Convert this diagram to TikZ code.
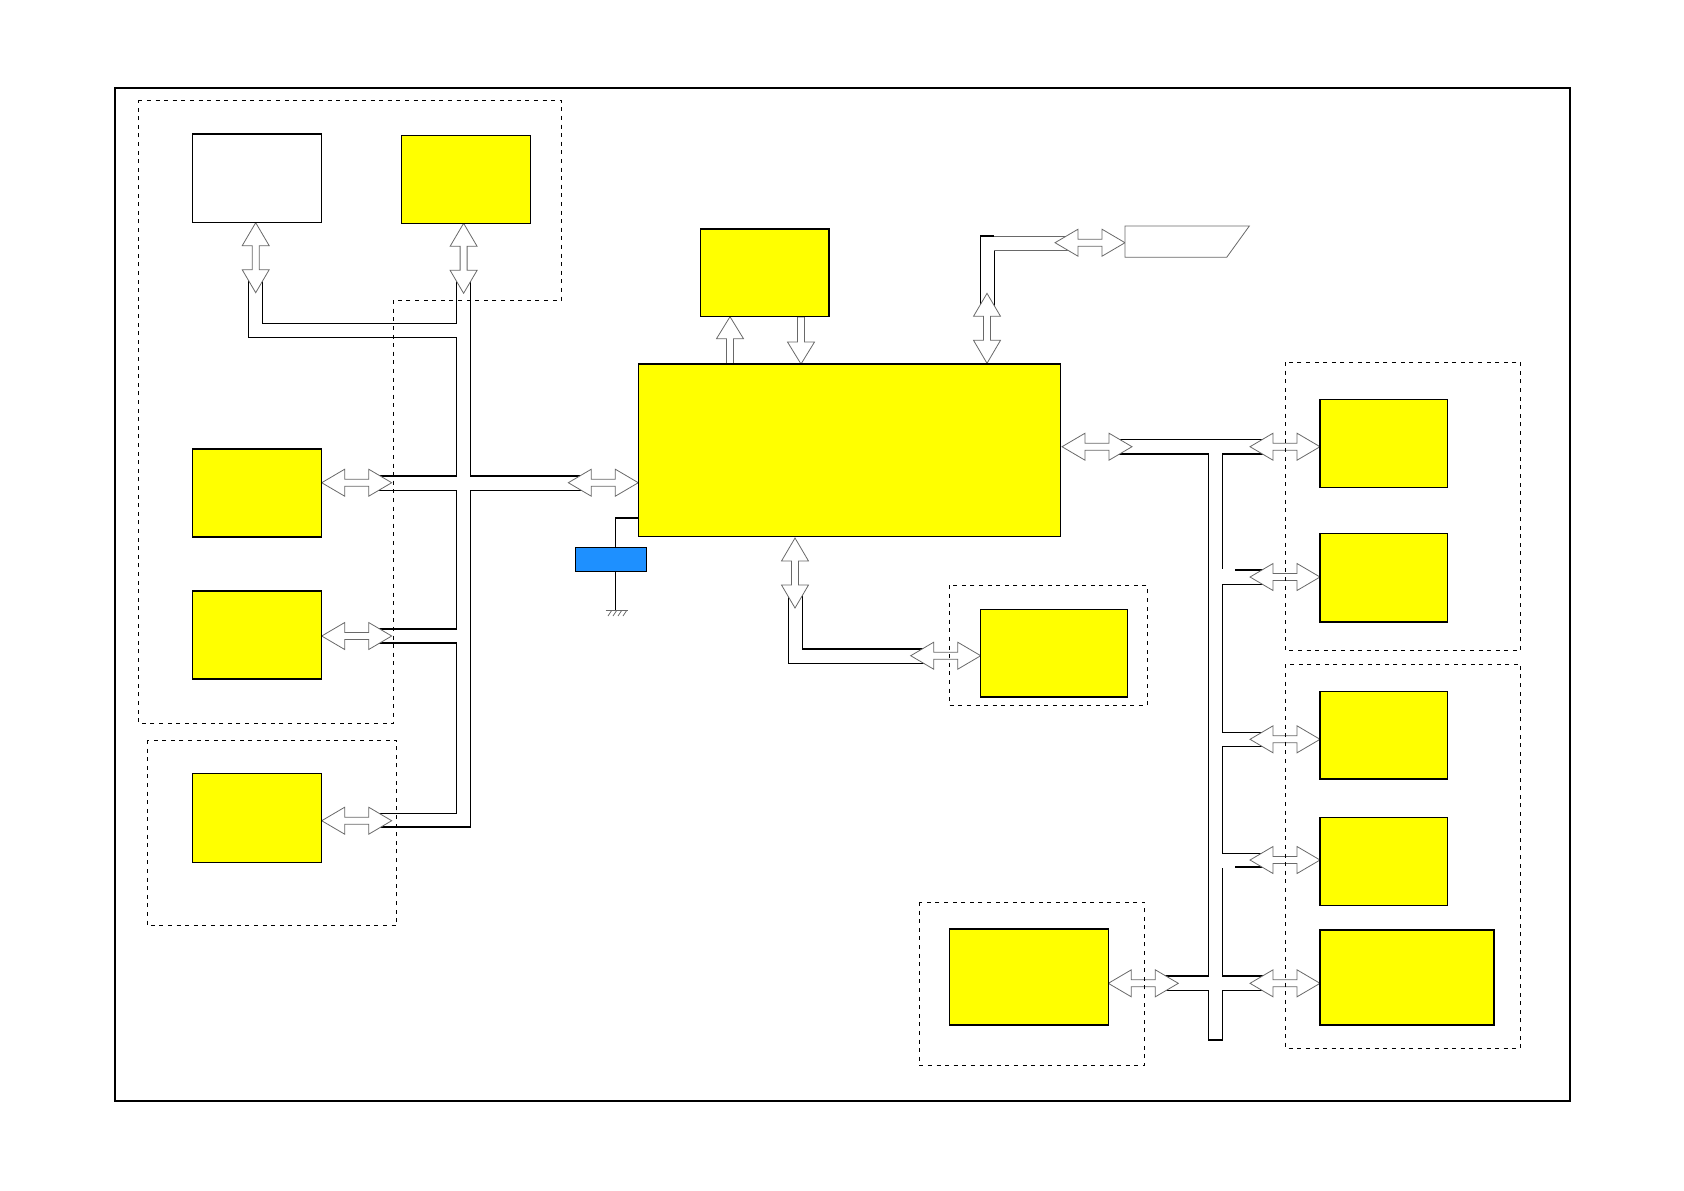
\documentclass[tikz,border=0pt]{standalone}
\usetikzlibrary{fit}
\definecolor{ybox}{RGB}{255,255,0}
\definecolor{bluebox}{RGB}{30,144,255}
\definecolor{arrgray}{RGB}{105,105,105}
\tikzset{
 box/.style={draw=black, line width=0.55pt, inner sep=0pt, outer sep=0pt},
 yellowbox/.style={box, fill=ybox},
 whitebox/.style={box, fill=white},
 bus/.style={draw=black, line width=0.55pt},
 graybus/.style={draw=arrgray, line width=0.5pt},
 zone/.style={draw=black, line width=0.5pt, dash pattern=on 2pt off 2.3pt},
 arrline/.style={draw=arrgray, fill=white, line width=0.4pt, line join=miter},
 dbl/.pic={\path[arrline] (0,0) -- (23,13.5) -- (23,3.5) -- (47,3.5) -- (47,13.5) -- (70,0) -- (47,-13.5) -- (47,-3.5) -- (23,-3.5) -- (23,-13.5) -- cycle;},
 sgl/.pic={\path[arrline] (0,0) -- (22,13.5) -- (22,3.5) -- (47,3.5) -- (47,-3.5) -- (22,-3.5) -- (22,-13.5) -- cycle;}
}
\begin{document}
\begin{tikzpicture}[x=0.5pt,y=-0.5pt]
\useasboundingbox (0,0) rectangle (1684,1190);
% outer frame
\draw[line width=1pt] (115,87.5) rectangle (1570,1101);

% ---------- bus lines ----------
% left bus
\path[bus] (248.3,275) -- (248.3,337.7) -- (456.7,337.7) -- (456.7,476) -- (375,476);
\path[bus] (262.3,275) -- (262.3,323.3) -- (456.7,323.3) -- (456.7,275);
\path[bus] (375,490.3) -- (456.7,490.3) -- (456.7,629) -- (375,629);
\path[bus] (375,643) -- (456.7,643) -- (456.7,813.3) -- (375,813.3);
\path[bus] (470.5,275) -- (470.5,476) -- (586,476);
\path[bus] (586,490.3) -- (470.5,490.3) -- (470.5,827) -- (375,827);
% top right bus
\path[bus] (980.7,310) -- (980.7,236) -- (994.3,236);
\path[graybus] (994.3,236) -- (1073,236);
\path[bus] (994.3,310) -- (994.3,250.7);
\path[graybus] (994.3,250.7) -- (1073,250.7);
% bottom CPU bus
\path[bus] (788.3,590) -- (788.3,663.3) -- (929,663.3);
\path[bus] (802.3,590) -- (802.3,649) -- (929,649);
% right bus
\path[bus] (1114,439.3) -- (1268,439.3);
\path[bus] (1114,454) -- (1208.3,454) -- (1208.3,976) -- (1160,976);
\path[bus] (1268,454) -- (1222.3,454) -- (1222.3,569.3);
\path[bus] (1235,570) -- (1268,570);
\path[bus] (1268,584.3) -- (1222.3,584.3) -- (1222.3,732.3) -- (1268,732.3);
\path[bus] (1268,746.3) -- (1222.3,746.3) -- (1222.3,853.3) -- (1268,853.3);
\path[bus] (1235,867) -- (1268,867);
\path[bus] (1222.3,868.3) -- (1222.3,976) -- (1268,976);
\path[bus] (1160,990.3) -- (1208.3,990.3) -- (1208.3,1040) -- (1222.3,1040) -- (1222.3,990.3) -- (1268,990.3);

% ---------- block arrows ----------
\pic[rotate=-90] at (255.7,222.7) {dbl};
\pic[rotate=-90] at (463.6,223.3) {dbl};
\pic at (321.7,482.7) {dbl};
\pic at (321.7,636) {dbl};
\pic at (321.7,820.7) {dbl};
\pic at (568.3,482.7) {dbl};
\pic[rotate=-90] at (730,316.7) {sgl};
\pic[rotate=90] at (801,364) {sgl};
\pic[rotate=-90] at (987,293.3) {dbl};
\pic at (1055,242.7) {dbl};
\pic[rotate=-90] at (795,538) {dbl};
\pic at (910.7,655.7) {dbl};
\pic at (1062,446.7) {dbl};
\foreach \yy in {446.7,577,739.3,860,983.3} {\pic at (1250,\yy) {dbl};}
\pic at (1108.3,983.3) {dbl};

% ---------- dashed zones ----------
\draw[zone] (138.3,100.7) -- (561.7,100.7) -- (561.7,300) -- (393.3,300) -- (393.3,723.3) -- (138.3,723.3) -- cycle;
\draw[zone] (147.3,740) rectangle (396.7,925.7);
\draw[zone] (949.6,585.3) rectangle (1147,705.6);
\draw[zone] (919.3,902) rectangle (1144.3,1065.4);
\draw[zone] (1285.7,362) rectangle (1520.8,650.7);
\draw[zone] (1285.7,664.3) rectangle (1520.8,1048.3);

% ---------- blocks ----------
\node[whitebox, fit={(192.3,134) (321.7,222.7)}] (wt) {};
\node[yellowbox, fit={(401.7,135.3) (530.7,223.3)}] (yt) {};
\node[yellowbox, fit={(192.3,449) (321.7,537)}] (l2) {};
\node[yellowbox, fit={(192.3,591) (321.7,679)}] (l3) {};
\node[yellowbox, fit={(192.3,773.3) (321.7,862.3)}] (l4) {};
\node[yellowbox, fit={(700.7,229) (829,316.7)}] (tc) {};
\node[yellowbox, fit={(638.3,364) (1060.7,536.7)}] (cpu) {};
\node[yellowbox, fit={(980.7,609.3) (1127.7,697)}] (bm) {};
\node[yellowbox, fit={(1320,399.5) (1447.8,487.3)}] (r1) {};
\node[yellowbox, fit={(1320,533.3) (1447.8,622)}] (r2) {};
\node[yellowbox, fit={(1320,691.7) (1447.8,779)}] (r3) {};
\node[yellowbox, fit={(1320,817.7) (1447.8,905.4)}] (r4) {};
\node[yellowbox, fit={(1320,930) (1494,1025)}] (r5) {};
\node[yellowbox, fit={(949.4,929) (1108.3,1025)}] (bl) {};

% parallelogram
\draw[draw=arrgray, line width=0.4pt, fill=white] (1125,226) -- (1249.3,226) -- (1226.7,257.3) -- (1125,257.3) -- cycle;

% blue component with ground
\node[box, fill=bluebox, fit={(575.3,547.7) (646.7,571.3)}] (cap) {};
\coordinate (tap) at (615,517.7);
\coordinate (gnd) at (615,610.7);
\draw[line width=0.9pt] (tap) -- (cpu.west |- tap);
\draw[line width=0.5pt] (tap) -- (tap |- cap.north);
\draw[line width=0.5pt] (tap |- cap.south) -- (gnd);
\draw[line width=0.4pt, draw=arrgray] (605.7,610.7) -- (628.3,610.7);
\foreach \hx in {609,614,619,624} {\draw[line width=0.4pt, draw=arrgray] (\hx+2.5,610.7) -- (\hx-1,616);}
\end{tikzpicture}
\end{document}
